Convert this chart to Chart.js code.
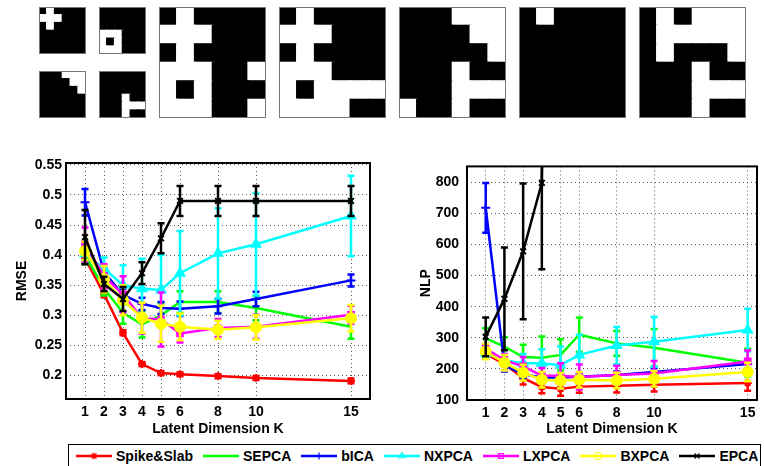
<!DOCTYPE html>
<html>
<head>
<meta charset="utf-8">
<script src="https://cdn.jsdelivr.net/npm/chart.js@4.4.0/dist/chart.umd.min.js"></script>
<style>
  body { margin: 0; width: 764px; height: 466px; overflow: hidden; background: #fff; position: relative;
         font-family: "Liberation Sans", Arial, sans-serif; }
  .abs { position: absolute; }
  .tile { outline: 1px solid #777; outline-offset: -1px; }
  .legend { position: absolute; left: 68px; top: 444px; width: 693px; height: 24px; border: 1px solid #000;
            box-sizing: border-box; display: flex; align-items: center; padding-left: 7px;
            font-weight: bold; font-size: 14px; color: #000; }
  .legend .item { display: flex; align-items: center; margin-right: 10px; white-space: nowrap; }
  .legend canvas { margin-right: 4px; }
</style>
</head>
<body>
<canvas id="tile0" class="abs tile" width="47" height="47" style="left:39px;top:7px"></canvas>
<canvas id="tile1" class="abs tile" width="47" height="47" style="left:99px;top:7px"></canvas>
<canvas id="tile2" class="abs tile" width="47" height="47" style="left:39px;top:71px"></canvas>
<canvas id="tile3" class="abs tile" width="47" height="47" style="left:99px;top:71px"></canvas>
<canvas id="tile4" class="abs tile" width="107" height="111" style="left:159px;top:7px"></canvas>
<canvas id="tile5" class="abs tile" width="107" height="111" style="left:279px;top:7px"></canvas>
<canvas id="tile6" class="abs tile" width="107" height="111" style="left:399px;top:7px"></canvas>
<canvas id="tile7" class="abs tile" width="107" height="111" style="left:519px;top:7px"></canvas>
<canvas id="tile8" class="abs tile" width="107" height="111" style="left:639px;top:7px"></canvas>

<canvas id="rmseChart" class="abs" width="390" height="290" style="left:0;top:150px"></canvas>
<canvas id="nlpChart" class="abs" width="374" height="290" style="left:390px;top:150px"></canvas>
<div id="legend" class="legend"></div>

<script>
// binary basis / data images, rows top to bottom, '1' = white
const tileCross = ['010000', '111000', '010000', '000000', '000000', '000000'];
const tileRing = ['000000', '000000', '000000', '111000', '101000', '111000'];
const tileStairs = ['000111', '000011', '000001', '000000', '000000', '000000'];
const tileTee = ['000000', '000000', '000000', '000100', '000111', '000100'];
const tileData1 = ['010000', '111000', '010000', '111001', '101000', '111001'];
const tileData2 = ['010000', '111000', '010000', '111000', '101111', '111100'];
const tileData3 = ['000111', '000011', '000001', '000100', '000111', '100100'];
const tileData4 = ['010000', '000000', '000000', '000000', '000000', '000000'];
const tileData5 = ['010111', '011111', '010001', '000100', '000111', '000100'];

// x values and ticks
const kValues = [1, 2, 3, 4, 5, 6, 8, 10, 15];
const rmseTicks = [0.2, 0.25, 0.3, 0.35, 0.4, 0.45, 0.5, 0.55];
const nlpTicks = [100, 200, 300, 400, 500, 600, 700, 800];

const seriesNames = ['Spike&Slab', 'SEPCA', 'bICA', 'NXPCA', 'LXPCA', 'BXPCA', 'EPCA'];

// RMSE (left)
const spikeSlabRmse = [0.395, 0.335, 0.271, 0.219, 0.204, 0.202, 0.199, 0.196, 0.191];
const sepcaRmse     = [0.400, 0.345, 0.304, 0.285, 0.300, 0.322, 0.322, 0.312, 0.281];
const bicaRmse      = [0.488, 0.372, 0.334, 0.319, 0.312, 0.311, 0.315, 0.327, 0.358];
const nxpcaRmse     = [0.402, 0.378, 0.350, 0.344, 0.342, 0.370, 0.403, 0.418, 0.465];
const lxpcaRmse     = [0.418, 0.365, 0.335, 0.295, 0.293, 0.270, 0.279, 0.281, 0.301];
const bxpcaRmse     = [0.407, 0.360, 0.325, 0.296, 0.286, 0.281, 0.276, 0.280, 0.295];
const epcaRmse      = [0.430, 0.352, 0.327, 0.370, 0.428, 0.490, 0.490, 0.490, 0.490];

const spikeSlabRmseErr = [0.008, 0.005, 0.004, 0.003, 0.003, 0.003, 0.003, 0.003, 0.004];
const sepcaRmseErr     = [0.015, 0.012, 0.018, 0.022, 0.020, 0.018, 0.018, 0.020, 0.020];
const bicaRmseErr      = [0.022, 0.010, 0.010, 0.010, 0.010, 0.012, 0.012, 0.012, 0.010];
const nxpcaRmseErr     = [0.012, 0.018, 0.033, 0.050, 0.058, 0.070, 0.075, 0.085, 0.067];
const lxpcaRmseErr     = [0.028, 0.020, 0.030, 0.025, 0.045, 0.015, 0.015, 0.020, 0.015];
const bxpcaRmseErr     = [0.015, 0.022, 0.025, 0.025, 0.030, 0.022, 0.015, 0.020, 0.022];
const epcaRmseErr      = [0.045, 0.012, 0.020, 0.018, 0.025, 0.025, 0.025, 0.025, 0.025];

// NLP (right)
const spikeSlabNlp = [248, 216, 170, 142, 136, 143, 146, 149, 155];
const sepcaNlp     = [298, 272, 238, 236, 245, 310, 282, 268, 220];
const bicaNlp      = [718, 212, 183, 172, 172, 175, 180, 190, 216];
const nxpcaNlp     = [250, 228, 218, 218, 212, 245, 275, 287, 325];
const lxpcaNlp     = [265, 228, 208, 178, 178, 174, 180, 185, 224];
const bxpcaNlp     = [256, 220, 188, 165, 162, 165, 163, 168, 190];
const epcaNlp      = [303, 425, 578, 798, 5000, 10000, 10000, 10000, 10000];

const spikeSlabNlpErr = [15, 20, 20, 20, 22, 20, 22, 22, 25];
const sepcaNlpErr     = [33, 30, 40, 68, 50, 55, 40, 60, 45];
const bicaNlpErr      = [80, 20, 15, 12, 12, 12, 12, 12, 15];
const nxpcaNlpErr     = [15, 20, 30, 45, 60, 65, 60, 80, 68];
const lxpcaNlpErr     = [15, 20, 30, 25, 40, 40, 30, 40, 35];
const bxpcaNlpErr     = [25, 25, 25, 25, 25, 25, 25, 25, 30];
const epcaNlpErr      = [62, 165, 218, 278, 500, 500, 500, 500, 500];

const colors = ['#ff0000', '#00ff00', '#0000ff', '#00ffff', '#ff00ff', '#ffff00', '#000000'];
const markers = ['star', false, 'cross', 'triangle', 'rect', 'circle', 'crossRot'];
const markerSize = [4, 0, 4.5, 5, 4, 5, 4];
const FONT = '"Liberation Sans", Arial, sans-serif';

// draw vertical error bars with caps, right after each line
const errorBars = {
  id: 'errorBars',
  afterDatasetDraw(chart, args) {
    const ds = chart.data.datasets[args.index];
    if (!ds.errors) return;
    const ctx = chart.ctx, a = chart.chartArea, y = chart.scales.y;
    ctx.save();
    ctx.beginPath();
    ctx.rect(a.left, a.top, a.right - a.left, a.bottom - a.top);
    ctx.clip();
    ctx.strokeStyle = ds.borderColor;
    ctx.lineWidth = 2.5;
    args.meta.data.forEach((pt, i) => {
      const v = ds.data[i].y, e = ds.errors[i];
      const top = y.getPixelForValue(v + e), bot = y.getPixelForValue(v - e);
      ctx.beginPath();
      ctx.moveTo(pt.x, top); ctx.lineTo(pt.x, bot);
      ctx.moveTo(pt.x - 3.5, top); ctx.lineTo(pt.x + 3.5, top);
      ctx.moveTo(pt.x - 3.5, bot); ctx.lineTo(pt.x + 3.5, bot);
      ctx.stroke();
    });
    ctx.restore();
  }
};

// box around the plot area
const frame = {
  id: 'frame',
  afterDraw(chart) {
    const ctx = chart.ctx, a = chart.chartArea;
    ctx.save();
    ctx.strokeStyle = '#000';
    ctx.lineWidth = 2;
    ctx.strokeRect(a.left, a.top, a.right - a.left, a.bottom - a.top);
    ctx.restore();
  }
};

function makeDatasets(values, errors) {
  return values.map((vals, s) => ({
    label: seriesNames[s],
    data: kValues.map((k, i) => ({ x: k, y: vals[i] })),
    errors: errors[s],
    borderColor: colors[s],
    backgroundColor: colors[s],
    borderWidth: 2.5,
    tension: 0,
    pointStyle: markers[s],
    pointRadius: markerSize[s],
    pointBorderWidth: 2,
    pointBackgroundColor: colors[s],
    pointBorderColor: colors[s],
    order: values.length - s
  }));
}

function lineChart(id, values, errors, opts) {
  const tickFont = { family: FONT, size: 14, weight: 'bold' };
  return new Chart(document.getElementById(id), {
    type: 'line',
    data: { datasets: makeDatasets(values, errors) },
    options: {
      responsive: false,
      animation: false,
      layout: { padding: { left: 0, right: opts.padRight, top: 13, bottom: 0 } },
      plugins: { legend: { display: false }, tooltip: { enabled: false } },
      scales: {
        x: {
          type: 'linear', min: 0, max: opts.xMax,
          afterBuildTicks: s => { s.ticks = kValues.map(v => ({ value: v })); },
          afterFit: s => { s.height = opts.xHeight; },
          ticks: { color: '#000', font: tickFont, padding: 5, autoSkip: false, maxRotation: 0 },
          grid: { color: '#555', drawTicks: false, lineWidth: 1 },
          border: { display: false, dash: [1, 3] },
          title: { display: true, text: 'Latent Dimension K', color: '#000', font: tickFont,
                   padding: { top: 0, bottom: 2 } }
        },
        y: {
          type: 'linear', min: opts.yMin, max: opts.yMax,
          afterBuildTicks: s => { s.ticks = opts.yTicks.map(v => ({ value: v })); },
          afterFit: s => { s.width = opts.yWidth; },
          ticks: { color: '#000', font: tickFont, padding: opts.tickPad, autoSkip: false,
                   callback: v => String(+v.toFixed(2)) },
          grid: { color: '#555', drawTicks: false, lineWidth: 1 },
          border: { display: false, dash: [1, 3] },
          title: { display: true, text: opts.yTitle, color: '#000', font: tickFont,
                   padding: { top: opts.titlePad, bottom: 0 } }
        }
      }
    },
    plugins: [errorBars, frame]
  });
}

lineChart('rmseChart',
  [spikeSlabRmse, sepcaRmse, bicaRmse, nxpcaRmse, lxpcaRmse, bxpcaRmse, epcaRmse],
  [spikeSlabRmseErr, sepcaRmseErr, bicaRmseErr, nxpcaRmseErr, lxpcaRmseErr, bxpcaRmseErr, epcaRmseErr],
  { padRight: 20, xMax: 16, xHeight: 41, yMin: 0.161, yMax: 0.553, yTicks: rmseTicks,
    yWidth: 66, tickPad: 4, yTitle: 'RMSE', titlePad: 14 });

lineChart('nlpChart',
  [spikeSlabNlp, sepcaNlp, bicaNlp, nxpcaNlp, lxpcaNlp, bxpcaNlp, epcaNlp],
  [spikeSlabNlpErr, sepcaNlpErr, bicaNlpErr, nxpcaNlpErr, lxpcaNlpErr, bxpcaNlpErr, epcaNlpErr],
  { padRight: 1, xMax: 15.5, xHeight: 40, yMin: 100, yMax: 851, yTicks: nlpTicks,
    yWidth: 77, tickPad: 8, yTitle: 'NLP', titlePad: 28 });

// image tiles as stacked 6x6 bar grids
function tileChart(id, rows) {
  const datasets = [];
  for (let r = rows.length - 1; r >= 0; r--) {
    const cells = rows[r].split('');
    datasets.push({
      data: cells.map(() => 1),
      backgroundColor: cells.map(c => (c === '1' ? '#ffffff' : '#000000')),
      borderWidth: 0,
      inflateAmount: 0.8,
      barPercentage: 1,
      categoryPercentage: 1
    });
  }
  new Chart(document.getElementById(id), {
    type: 'bar',
    data: { labels: ['0', '1', '2', '3', '4', '5'], datasets },
    options: {
      responsive: false,
      animation: false,
      layout: { padding: 0 },
      plugins: { legend: { display: false }, tooltip: { enabled: false } },
      scales: {
        x: { display: false, stacked: true },
        y: { display: false, stacked: true, min: 0, max: 6 }
      }
    }
  });
}

[tileCross, tileRing, tileStairs, tileTee, tileData1, tileData2, tileData3, tileData4, tileData5]
  .forEach((rows, i) => tileChart('tile' + i, rows));

// legend: line sample with marker, then name
const legendEl = document.getElementById('legend');
seriesNames.forEach((name, s) => {
  const item = document.createElement('div');
  item.className = 'item';
  const c = document.createElement('canvas');
  c.width = 36; c.height = 12;
  const ctx = c.getContext('2d');
  ctx.strokeStyle = colors[s];
  ctx.lineWidth = 2.5;
  ctx.beginPath(); ctx.moveTo(0, 6); ctx.lineTo(36, 6); ctx.stroke();
  if (markers[s] && Chart.helpers && Chart.helpers.drawPoint) {
    ctx.fillStyle = 'rgba(0,0,0,0)';
    ctx.lineWidth = 1.2;
    Chart.helpers.drawPoint(ctx, { pointStyle: markers[s], radius: 3.5, borderWidth: 1.2, rotation: 0 }, 18, 6);
  }
  const label = document.createElement('span');
  label.textContent = name;
  item.appendChild(c);
  item.appendChild(label);
  legendEl.appendChild(item);
});
</script>
</body>
</html>
